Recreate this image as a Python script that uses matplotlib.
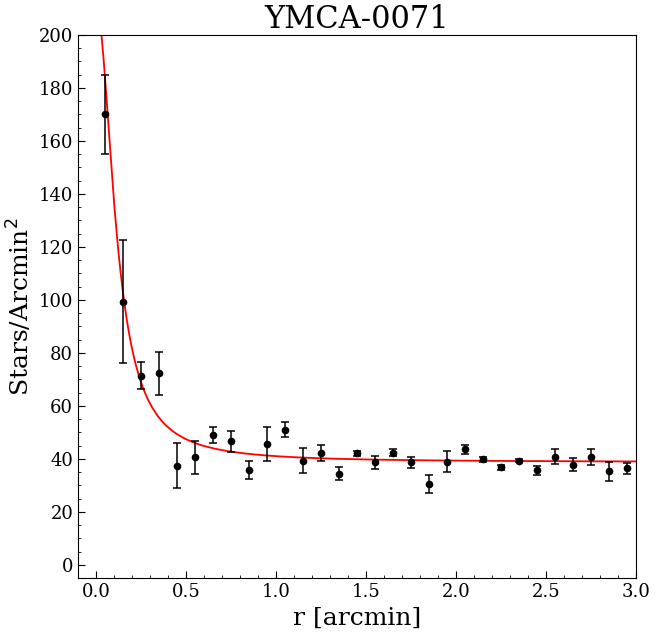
import numpy as np
import matplotlib
matplotlib.use("Agg")
import matplotlib.pyplot as plt
from matplotlib.ticker import MultipleLocator

# radial density profile
r = [0.05, 0.15, 0.25, 0.35, 0.45, 0.55, 0.65, 0.75, 0.85, 0.95,
     1.05, 1.15, 1.25, 1.35, 1.45, 1.55, 1.65, 1.75, 1.85, 1.95,
     2.05, 2.15, 2.25, 2.35, 2.45, 2.55, 2.65, 2.75, 2.85, 2.95]
dens = [170.0, 99.3, 71.4, 72.3, 37.5, 40.6, 49.2, 46.6, 36.0, 45.8,
        51.1, 39.4, 42.1, 34.5, 42.1, 38.7, 42.4, 38.7, 30.5, 39.0,
        43.6, 39.8, 36.8, 39.4, 35.7, 40.9, 37.9, 40.6, 35.3, 36.4]
err = [15.0, 23.2, 5.0, 8.2, 8.6, 6.1, 3.0, 4.0, 3.4, 6.4,
       2.8, 4.6, 3.0, 2.5, 1.0, 2.5, 1.4, 2.0, 3.5, 4.0,
       1.6, 1.0, 1.0, 0.6, 1.8, 2.8, 2.4, 3.0, 3.6, 2.0]

# King profile fit parameters
f_bg = 38.8
f_0 = 172.0
r_c = 0.115

plt.rcParams['font.family'] = 'DejaVu Serif'

fig = plt.figure(figsize=(6.56, 6.34), dpi=100)
ax = fig.add_axes([0.119, 0.088, 0.851, 0.857])

rr = np.linspace(0.001, 3.0, 600)
king = f_bg + f_0 / (1 + (rr / r_c) ** 2)
ax.plot(rr, king, color="red", lw=1.3)

ax.errorbar(r, dens, yerr=err, fmt="o", color="black", ms=4.5,
            ecolor="black", elinewidth=1.1, capsize=3, capthick=1.1)

ax.set_xlim(-0.1, 3.0)
ax.set_ylim(-5, 200)
ax.xaxis.set_major_locator(MultipleLocator(0.5))
ax.xaxis.set_minor_locator(MultipleLocator(0.1))
ax.yaxis.set_major_locator(MultipleLocator(20))
ax.yaxis.set_minor_locator(MultipleLocator(5))
ax.tick_params(which="both", direction="in")
ax.tick_params(which="major", length=5, labelsize=13)
ax.tick_params(which="minor", length=2.5)

ax.set_xlabel("r [arcmin]", size=18)
ax.set_ylabel("Stars/Arcmin$^2$", size=18, labelpad=3)
ax.set_title("YMCA-0071", size=22, pad=4)

fig.savefig("out.png", dpi=100)
